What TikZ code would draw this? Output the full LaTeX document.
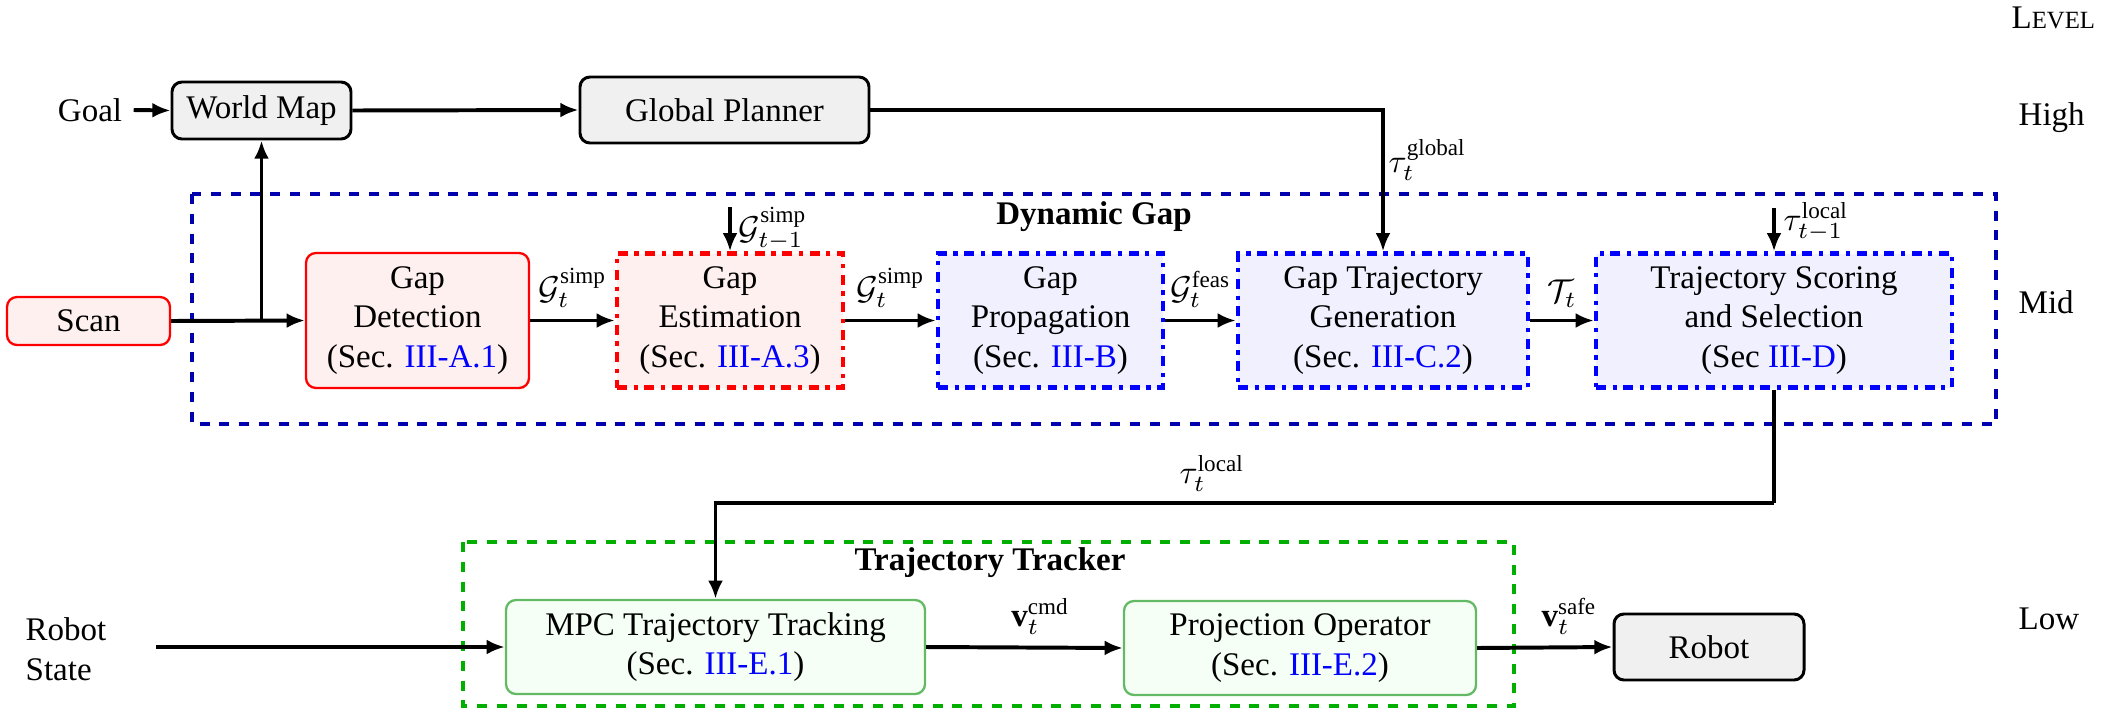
\documentclass[tikz,border=0pt]{standalone}
\usepackage{fontspec}
\setmainfont{Liberation Serif}
\usetikzlibrary{arrows.meta}
\newcommand\pxu{0.30303pt}
\definecolor{dgblue}{RGB}{0,0,175}
\definecolor{trgreen}{RGB}{0,175,0}
\definecolor{boxgreen}{RGB}{100,185,100}
\definecolor{lnk}{RGB}{0,0,255}
\begin{document}
\begin{tikzpicture}[x=0.30303pt,y=-0.30303pt,
  arr/.style={line width=1.2pt,-{Latex[length=5.5pt,width=4.5pt]}},
  ln/.style={line width=1.2pt},
  sz/.style 2 args={minimum width=#1*\pxu, minimum height=#2*\pxu},
  greybox/.style={draw=black, line width=0.9pt, fill=gray!12, rounded corners=3pt, align=center, inner sep=0pt},
  redbox/.style={draw=red, line width=0.7pt, fill=red!6, rounded corners=3pt, align=center, inner sep=0pt},
  redddbox/.style={draw=red, line width=1.3pt, dash dot, fill=red!6, align=center, inner sep=0pt},
  blueddbox/.style={draw=blue, line width=1.3pt, dash dot, fill=blue!6, align=center, inner sep=0pt},
  greenbox/.style={draw=boxgreen, line width=0.7pt, fill=green!4, rounded corners=3pt, align=center, inner sep=0pt},
  groupdg/.style={draw=dgblue, line width=1.3pt, dashed},
  grouptr/.style={draw=trgreen, line width=1.3pt, dashed},
  lbl/.style={inner sep=0pt},
  title/.style={inner sep=0pt, font=\bfseries},
]
\useasboundingbox (0,0) rectangle (2113,718);

% group frames
\draw[groupdg] (192,194) rectangle (1996,424);
\draw[grouptr] (463,542) rectangle (1514,706);
\node[title] (dgtitle) at (1094,217) {Dynamic Gap};
\node[title] (trtitle) at (990,563) {Trajectory Tracker};

% level labels
\node[lbl, anchor=west] (lvl) at (2011,18) {L\fontsize{7.5}{9}\selectfont EVEL};
\node[lbl, anchor=west] (lhigh) at (2018,118) {High};
\node[lbl, anchor=west] (lmid) at (2018,302) {Mid};
\node[lbl, anchor=west] (llow) at (2018,619) {Low};

% high level
\node (goal) at (90,110) {Goal};
\node[greybox, sz={179}{57}] (wm) at (261.5,110.5) {World Map};
\node[greybox, sz={289}{66}] (gp) at (724.5,110) {Global Planner};

% mid level
\node[redbox, sz={163}{48}] (scan) at (88.5,321) {Scan};
\node[redbox, sz={223}{135}] (gd) at (417.5,320.5) {Gap\\Detection\\(Sec. \textcolor{lnk}{III-A.1})};
\node[redddbox, sz={226}{134}] (ge) at (730,320.5) {Gap\\Estimation\\(Sec. \textcolor{lnk}{III-A.3})};
\node[blueddbox, sz={225}{134}] (gpr) at (1050.5,320.5) {Gap\\Propagation\\(Sec. \textcolor{lnk}{III-B})};
\node[blueddbox, sz={290}{134}] (gtg) at (1383,320.5) {Gap Trajectory\\Generation\\(Sec. \textcolor{lnk}{III-C.2})};
\node[blueddbox, sz={356}{134}] (ts) at (1774,320.5) {Trajectory Scoring\\and Selection\\(Sec \textcolor{lnk}{III-D})};

% low level
\node[lbl, align=left, anchor=west] (rstate) at (25,649) {Robot\\State};
\node[greenbox, sz={419}{94}] (mpc) at (715.5,647) {MPC Trajectory Tracking\\(Sec. \textcolor{lnk}{III-E.1})};
\node[greenbox, sz={352}{94}] (proj) at (1300,648) {Projection Operator\\(Sec. \textcolor{lnk}{III-E.2})};
\node[greybox, sz={190}{66}] (robot) at (1709,647) {Robot};

% coordinates
\coordinate (br) at (261.5,320.5);
\coordinate (gin) at (730,207);
\coordinate (lin) at (1774,208);
\coordinate (ret) at (1774,503);
\coordinate (rsin) at (156,647);

% connectors
\draw[arr] (goal.east) -- (wm.west);
\draw[arr] (wm.east) -- (gp.west);
\draw[arr] (gp.east) -| (gtg.north);
\node[lbl, anchor=west] (lglob) at (1388,160) {$\tau_t^{\mathrm{global}}$};
\draw[arr] (scan.east) -- (gd.west);
\draw[arr] (br) -- (wm.south);
\draw[arr] (gd.east) -- node[above] (l1) {$\mathcal{G}_t^{\mathrm{simp}}$} (ge.west);
\draw[arr] (gin) -- (ge.north);
\node[lbl, anchor=west] (lprev) at (738,229) {$\mathcal{G}_{t-1}^{\mathrm{simp}}$};
\draw[arr] (ge.east) -- node[above] (l2) {$\mathcal{G}_t^{\mathrm{simp}}$} (gpr.west);
\draw[arr] (gpr.east) -- node[above] (l3) {$\mathcal{G}_t^{\mathrm{feas}}$} (gtg.west);
\draw[arr] (gtg.east) -- node[above] (l4) {$\mathcal{T}_t$} (ts.west);
\draw[arr] (lin) -- (ts.north);
\node[lbl, anchor=west] (lloc) at (1783,222) {$\tau_{t-1}^{\mathrm{local}}$};
\draw[ln] (ts.south) -- (ret);
\draw[arr] (ret) -| (mpc.north);
\node[lbl, anchor=south] (lret) at (1212,492) {$\tau_t^{\mathrm{local}}$};
\draw[arr] (rsin) -- (mpc.west);
\draw[arr] (mpc.east) -- node[above, pos=0.58] (lcmd) {$\mathbf{v}_t^{\mathrm{cmd}}$} (proj.west);
\draw[arr] (proj.east) -- node[above, pos=0.68] (lsafe) {$\mathbf{v}_t^{\mathrm{safe}}$} (robot.west);
\end{tikzpicture}
\end{document}
